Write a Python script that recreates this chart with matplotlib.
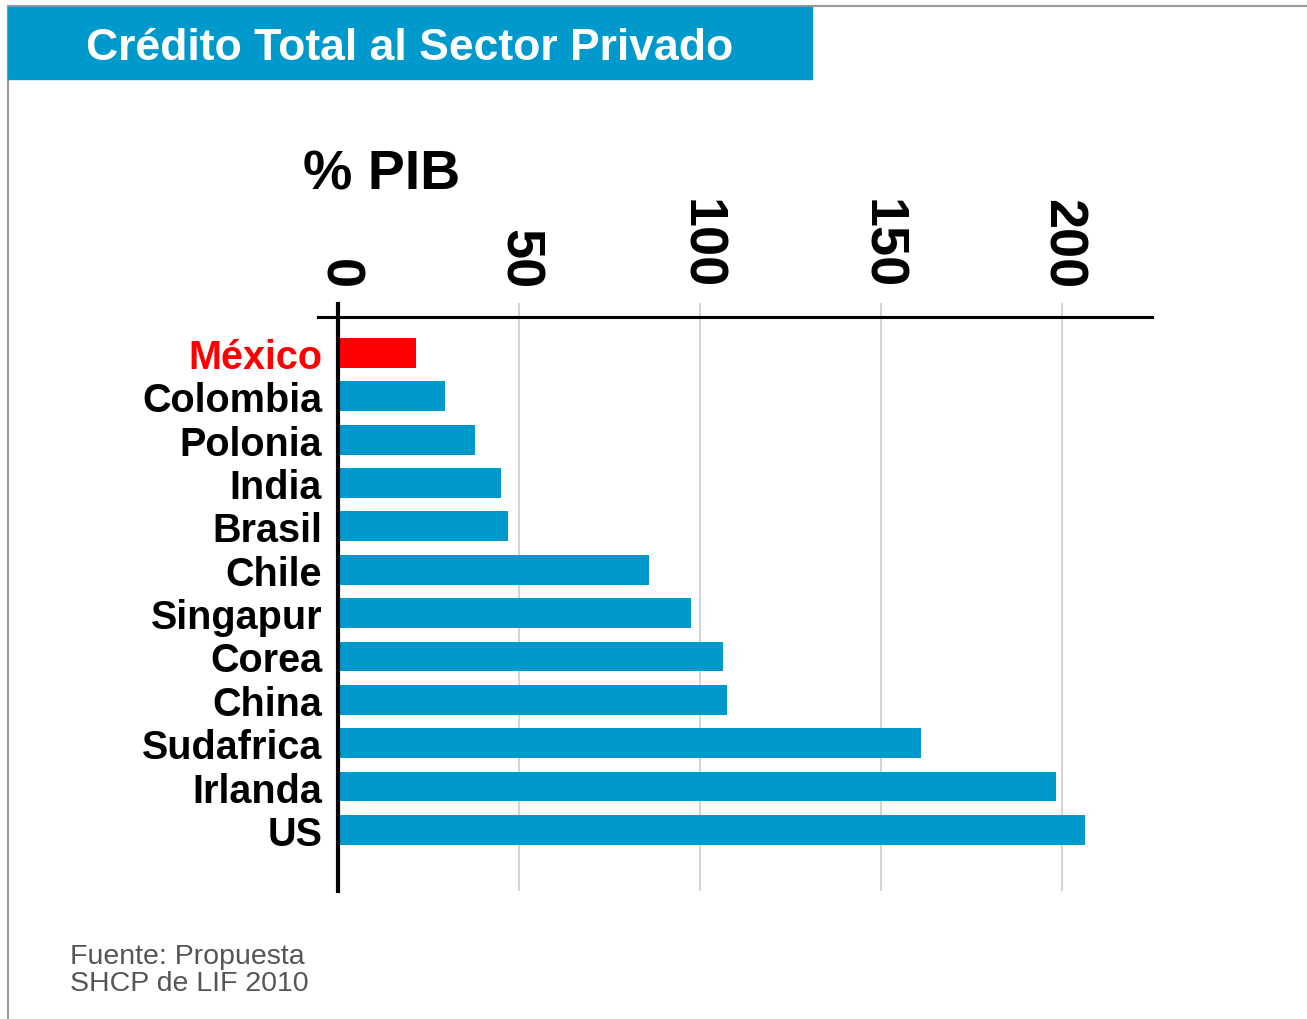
import numpy as np
import matplotlib
matplotlib.use("Agg")
import matplotlib.pyplot as plt
from matplotlib.patches import Rectangle
from matplotlib.lines import Line2D

plt.rcParams['font.family'] = ['Liberation Sans', 'DejaVu Sans']

# Data (% of GDP)
paises = ['México', 'Colombia', 'Polonia', 'India', 'Brasil', 'Chile',
          'Singapur', 'Corea', 'China', 'Sudafrica', 'Irlanda', 'US']
credito = [21.5, 29.5, 38, 45, 47, 86, 97.5, 106.5, 107.5, 161, 198.5, 206.5]
ticks = [0, 50, 100, 150, 200]

azul = '#0099cc'
rojo = '#ff0000'
colores = [rojo if p == 'México' else azul for p in paises]

W, H = 1307, 1020
fig = plt.figure(figsize=(W / 100, H / 100), dpi=100)
fig.patch.set_facecolor('white')

# Frame lines (top and left)
fig.add_artist(Line2D([8 / W, 8 / W], [0, 1 - 7 / H], color='#999999', lw=1.5))
fig.add_artist(Line2D([8 / W, 1], [1 - 7 / H, 1 - 7 / H], color='#999999', lw=1.5))

# Title banner
fig.add_artist(Rectangle((8 / W, 1 - 80 / H), 804 / W, 72 / H,
                         transform=fig.transFigure, color=azul, zorder=2))
fig.text(86 / W, 1 - 60 / H, 'Crédito Total al Sector Privado', color='white',
         fontsize=32, fontweight='bold', va='baseline', ha='left', zorder=3)

# Main axes
ax = fig.add_axes([318 / W, 1 - 892 / H, 834 / W, 574 / H])
y = np.arange(len(paises))
ax.barh(y, credito, height=0.69, color=colores, zorder=2)

ax.set_xlim(-5.5, 224.9)
ax.set_ylim(12.41, -0.83)

# x axis on top with rotated labels
ax.xaxis.tick_top()
ax.set_xticks(ticks)
ax.set_xticklabels([str(t) for t in ticks], rotation=-90, fontsize=39,
                   fontweight='bold')
ax.tick_params(axis='x', length=10, width=1.2, color='#cccccc', pad=11)
ax.grid(axis='x', color='#cccccc', lw=1.2)
ax.set_axisbelow(True)

# y labels
ax.set_yticks(y)
ax.set_yticklabels(paises, fontsize=28.5, fontweight='bold')
ax.tick_params(axis='y', length=0, pad=-3)
for lbl in ax.get_yticklabels():
    if lbl.get_text() == 'México':
        lbl.set_color(rojo)

for s in ['left', 'right', 'bottom']:
    ax.spines[s].set_visible(False)
ax.spines['top'].set_linewidth(2.2)
ax.spines['top'].set_color('black')

# zero line
ax.axvline(0, ymin=0, ymax=1.023, color='black', lw=3, clip_on=False, zorder=3)

fig.text(303 / W, 1 - 190 / H, '% PIB', fontsize=40, fontweight='bold',
         va='baseline', ha='left')

fig.text(70 / W, 1 - 944 / H, 'Fuente: Propuesta\nSHCP de LIF 2010',
         fontsize=20.5, color='#555555', va='top', ha='left', linespacing=1.05)

fig.savefig('out.png', dpi=100, facecolor='white')
